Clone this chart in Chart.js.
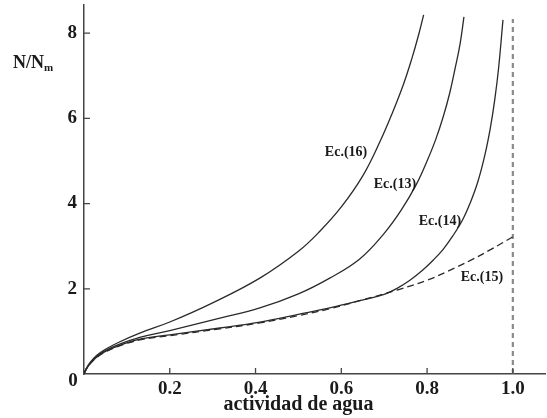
<!DOCTYPE html>
<html>
<head>
<meta charset="utf-8">
<script src="https://cdn.jsdelivr.net/npm/chart.js@4.4.1/dist/chart.umd.min.js"></script>
<style>
  html, body { margin: 0; padding: 0; background: #fff; }
  #wrap { width: 547px; height: 418px; }
</style>
</head>
<body>
<div id="wrap"><canvas id="isoChart"></canvas></div>
<script>
// actividad de agua (x) and N/Nm (y)
const ec16X = [0, 0.005, 0.015, 0.03, 0.05, 0.08, 0.13, 0.2, 0.3, 0.41, 0.5, 0.55, 0.6, 0.65, 0.69, 0.72, 0.745, 0.765, 0.78, 0.792];
const ec16Y = [0, 0.12, 0.28, 0.44, 0.58, 0.74, 0.96, 1.22, 1.67, 2.25, 2.88, 3.35, 3.92, 4.65, 5.45, 6.15, 6.8, 7.42, 7.95, 8.43];

const ec13X = [0, 0.005, 0.015, 0.03, 0.05, 0.08, 0.13, 0.2, 0.317, 0.41, 0.5, 0.573, 0.643, 0.7, 0.74, 0.775, 0.8, 0.82, 0.838, 0.853, 0.866, 0.877, 0.886];
const ec13Y = [0, 0.12, 0.27, 0.42, 0.55, 0.69, 0.86, 1.02, 1.31, 1.55, 1.88, 2.25, 2.7, 3.3, 3.85, 4.45, 5.0, 5.5, 6.05, 6.6, 7.2, 7.75, 8.38];

const ec14X = [0, 0.005, 0.015, 0.03, 0.05, 0.08, 0.13, 0.2, 0.317, 0.41, 0.5, 0.573, 0.643, 0.7, 0.73, 0.76, 0.79, 0.815, 0.837, 0.86, 0.883, 0.9, 0.918, 0.935, 0.948, 0.958, 0.967, 0.977];
const ec14Y = [0, 0.11, 0.25, 0.4, 0.53, 0.66, 0.82, 0.92, 1.08, 1.22, 1.4, 1.55, 1.72, 1.87, 2.01, 2.2, 2.44, 2.68, 2.92, 3.24, 3.62, 4.0, 4.5, 5.15, 5.8, 6.45, 7.2, 8.31];

const ec15X = [0, 0.005, 0.015, 0.03, 0.05, 0.08, 0.13, 0.2, 0.317, 0.41, 0.5, 0.573, 0.65, 0.73, 0.8, 0.85, 0.9, 0.95, 1.0];
const ec15Y = [0, 0.11, 0.25, 0.39, 0.52, 0.65, 0.8, 0.9, 1.06, 1.2, 1.37, 1.53, 1.74, 1.97, 2.2, 2.42, 2.66, 2.93, 3.22];

const limitX = [1.0, 1.0];
const limitY = [0, 8.33];

const xTicks = [0.2, 0.4, 0.6, 0.8, 1.0];
const yTicks = [2, 4, 6, 8];

const curveNames = ['Ec.(16)', 'Ec.(13)', 'Ec.(14)', 'Ec.(15)'];
const labelAt = [[0.611, 5.21], [0.725, 4.44], [0.83, 3.57], [0.928, 2.27]];

function pts(xs, ys) {
    return xs.map(function(x, i) { return { x: x, y: ys[i] }; });
}

const ink = '#1a1a1a';
const serif = '"Liberation Serif", "DejaVu Serif", serif';

function curve(label, xs, ys, dash) {
    return {
        label: label,
        data: pts(xs, ys),
        borderColor: '#2a2a2a',
        borderWidth: 1.3,
        borderDash: dash || [],
        pointRadius: 0,
        tension: 0.4,
        fill: false
    };
}

const extras = {
    id: 'extras',
    afterDraw(chart) {
        const c = chart.ctx;
        const xs = chart.scales.x, ys = chart.scales.y;
        const x0 = xs.getPixelForValue(0), y0 = ys.getPixelForValue(0);
        c.save();
        // inward tick marks
        c.strokeStyle = '#444';
        c.lineWidth = 1.3;
        c.beginPath();
        xTicks.forEach(function(v) {
            const px = xs.getPixelForValue(v);
            c.moveTo(px, y0);
            c.lineTo(px, y0 - 6);
        });
        yTicks.forEach(function(v) {
            const py = ys.getPixelForValue(v);
            c.moveTo(x0, py);
            c.lineTo(x0 + 6, py);
        });
        c.stroke();

        c.fillStyle = ink;
        c.font = 'bold 19px ' + serif;
        c.textAlign = 'center';
        c.textBaseline = 'middle';
        c.fillText('0', x0 - 11, y0 + 7);
        c.font = 'bold 20px ' + serif;
        c.fillText('actividad de agua', xs.getPixelForValue(0.5), 405);

        // y title N/Nm
        c.font = 'bold 18px ' + serif;
        c.textAlign = 'left';
        c.fillText('N/N', 13, 63);
        const w = c.measureText('N/N').width;
        c.font = 'bold 11px ' + serif;
        c.fillText('m', 13 + w, 68);

        // curve labels
        c.font = 'bold 14px ' + serif;
        c.textAlign = 'center';
        curveNames.forEach(function(n, i) {
            c.fillText(n, xs.getPixelForValue(labelAt[i][0]), ys.getPixelForValue(labelAt[i][1]));
        });
        c.restore();
    }
};

new Chart(document.getElementById('isoChart').getContext('2d'), {
    type: 'line',
    data: {
        datasets: [
            curve(curveNames[0], ec16X, ec16Y),
            curve(curveNames[1], ec13X, ec13Y),
            curve(curveNames[2], ec14X, ec14Y),
            curve(curveNames[3], ec15X, ec15Y, [7, 4]),
            {
                label: 'a = 1',
                data: pts(limitX, limitY),
                borderColor: '#8a8a8a',
                borderWidth: 2.2,
                borderDash: [5, 4],
                pointRadius: 0,
                fill: false
            }
        ]
    },
    options: {
        responsive: true,
        maintainAspectRatio: false,
        animation: false,
        layout: { padding: { top: 5, right: 2, left: 0, bottom: 0 } },
        plugins: {
            legend: { display: false },
            tooltip: { enabled: false }
        },
        scales: {
            x: {
                type: 'linear',
                min: 0,
                max: 1.075,
                afterBuildTicks: function(s) { s.ticks = xTicks.map(function(v) { return { value: v }; }); },
                afterFit: function(s) { s.height = 44; s.paddingLeft = 0; s.paddingRight = 0; },
                grid: { display: false, drawTicks: false },
                border: { display: true, color: '#444', width: 1.5 },
                ticks: {
                    color: ink,
                    padding: 4,
                    maxRotation: 0,
                    font: { family: serif, size: 19, weight: 'bold' },
                    callback: function(v) { return Number(v).toFixed(1); }
                }
            },
            y: {
                type: 'linear',
                min: 0,
                max: 8.66,
                afterBuildTicks: function(s) { s.ticks = yTicks.map(function(v) { return { value: v }; }); },
                afterFit: function(s) { s.width = 84; s.paddingTop = 0; s.paddingBottom = 0; },
                grid: { display: false, drawTicks: false },
                border: { display: true, color: '#444', width: 1.5 },
                ticks: {
                    color: ink,
                    padding: 7,
                    font: { family: serif, size: 19, weight: 'bold' },
                    callback: function(v) { return String(v); }
                }
            }
        }
    },
    plugins: [extras]
});
</script>
</body>
</html>
